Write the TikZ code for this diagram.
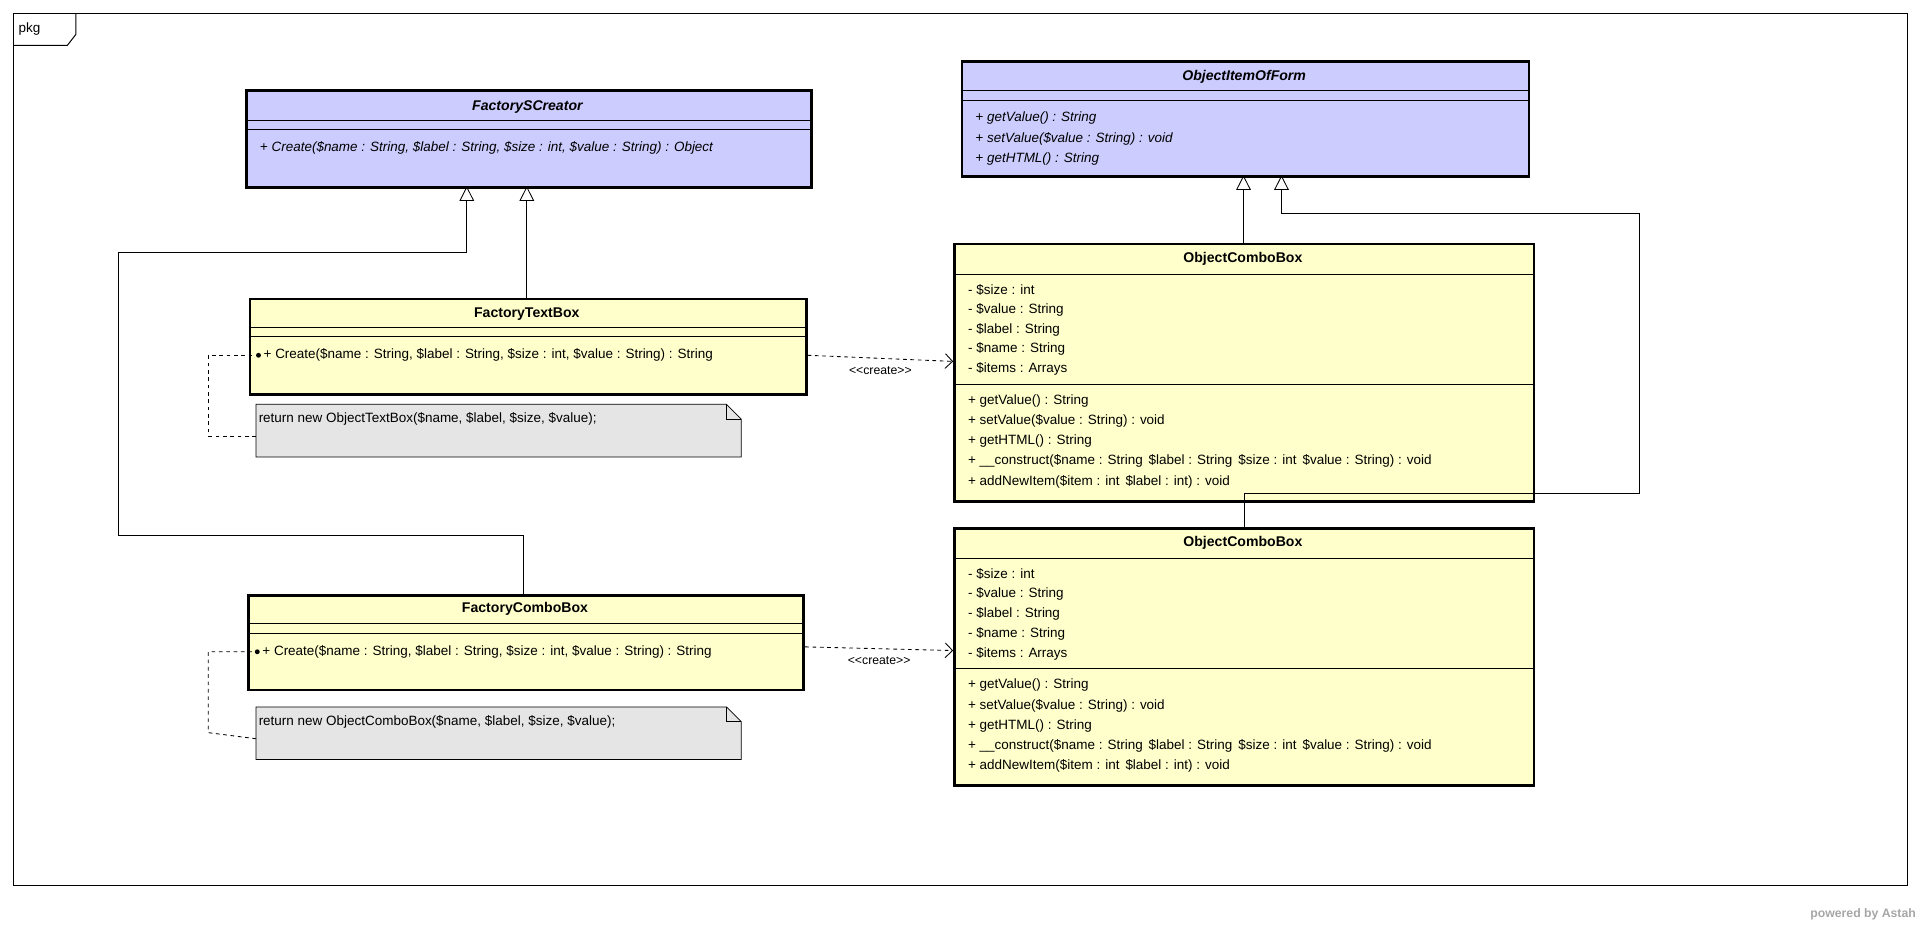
\documentclass[tikz,border=0pt]{standalone}
\usepackage{fontspec}
\setmainfont{Liberation Sans}
\usetikzlibrary{%
	positioning,
	calc,
	arrows.meta
}
\definecolor{abstractblue}{RGB}{204,204,255}
\definecolor{classyellow}{RGB}{255,255,204}
\definecolor{notegray}{RGB}{229,229,229}

\begin{document}
\begin{tikzpicture}[x=1pt,y=-1pt,
		SClass/.style={draw,line width=2.2pt,shape=rectangle,anchor=north west,inner sep=0pt},
		SAbstract/.style={SClass,fill=abstractblue},
		SConcrete/.style={SClass,fill=classyellow},
		title/.style={font=\fontsize{11.5}{14}\selectfont\bfseries},
		member/.style={anchor=west,inner sep=0pt,font=\fontsize{11}{14}\selectfont},
		sep/.style={line width=0.8pt},
		inherit/.style={-{Triangle[open,length=12pt,width=12pt]},line width=0.7pt},
		depend/.style={dashed,-{Straight Barb[length=6pt,width=12pt]},line width=0.7pt},
		anchorline/.style={dashed,line width=0.7pt}
	]
		\useasboundingbox (0,0) rectangle (1568,757);
		% package frame
		\draw[line width=0.8pt] (11,11) rectangle (1557,723);
		\draw[line width=0.8pt] (11,37) -- (55,37) -- (62,28) -- (62,11);
		\node(pkg)[member] at (15,24) {pkg};
		
		% abstract classes
		\node(creator) [SAbstract, minimum width=461, minimum height=79] at (200,73) {};
		\node[title] at (430.5,87) {\itshape FactorySCreator};
		\draw[sep] (creator.west |- 0,98) -- (creator.east |- 0,98) (creator.west |- 0,106) -- (creator.east |- 0,106);
		\node[member] at (212,121) {\itshape + Create(\$name : String, \$label : String, \$size : int, \$value : String) : Object};
		
		\node(item) [SAbstract, minimum width=463, minimum height=94] at (784,49) {};
		\node[title] at (1015.5,63) {\itshape ObjectItemOfForm};
		\draw[sep] (item.west |- 0,74) -- (item.east |- 0,74) (item.west |- 0,82) -- (item.east |- 0,82);
		\node[member] at (796,96) {\itshape + getValue() : String};
		\node[member] at (796,113) {\itshape + setValue(\$value : String) : void};
		\node[member] at (796,130) {\itshape + getHTML() : String};
		
		% factories
		\node(textbox) [SConcrete, minimum width=454, minimum height=78] at (203,243) {};
		\node[title] at (430,256) {FactoryTextBox};
		\draw[sep] (textbox.west |- 0,267) -- (textbox.east |- 0,267) (textbox.west |- 0,275) -- (textbox.east |- 0,275);
		\node(textbox-op)[member] at (215,290) {+ Create(\$name : String, \$label : String, \$size : int, \$value : String) : String};
		
		\node(combo) [SConcrete, minimum width=453, minimum height=77] at (202,485) {};
		\node[title] at (428.5,497) {FactoryComboBox};
		\draw[sep] (combo.west |- 0,509) -- (combo.east |- 0,509) (combo.west |- 0,517) -- (combo.east |- 0,517);
		\node(combo-op)[member] at (214,532) {+ Create(\$name : String, \$label : String, \$size : int, \$value : String) : String};
		
		% notes
		\foreach \n/\y/\t in {1/330/ObjectTextBox, 2/577/ObjectComboBox}{
			\draw[fill=notegray,line width=0.6pt] (209,\y) -- (593,\y) -- (605,\y+12) -- (605,\y+43) -- (209,\y+43) -- cycle;
			\draw[line width=0.6pt] (593,\y) -- (593,\y+12) -- (605,\y+12);
			\coordinate(note\n) at (209,\y+26);
			\node[member] at (211,\y+12) {return new \t(\$name, \$label, \$size, \$value);};
		}
		
		% object classes
		\foreach \n/\y in {1/198, 2/430}{
			\node(ocb\n) [SConcrete, minimum width=473, minimum height=210] at (778,\y) {};
			\node[title] at (1014.5,\y+13) {ObjectComboBox};
			\draw[sep] (778,\y+26) -- (1251,\y+26) (778,\y+116) -- (1251,\y+116);
			\foreach \a [count=\i] in {- \$size : int, - \$value : String, - \$label : String, - \$name : String, - \$items : Arrays}
				\node[member] at (790,\y+22+16.3*\i) {\a};
			\foreach \m [count=\i] in {+ getValue() : String, + setValue(\$value : String) : void, + getHTML() : String, + \_\_construct(\$name : String\, \$label : String\, \$size : int\, \$value : String) : void, + addNewItem(\$item : int\, \$label : int) : void}
				\node[member] at (790,\y+113+16.4*\i) {\m};
		}
		
		% generalizations
		\draw[inherit] (textbox.north -| 430,0) -- (430,152);
		\draw[inherit] (combo.north -| 427,0) -- (427,437) -- (97,437) -- (97,206) -- (381,206) -- (381,152);
		\draw[inherit] (ocb1.north -| 1015,0) -- (1015,143);
		\draw[inherit] (ocb2.north -| 1016,0) -- (1016,403) -- (1338,403) -- (1338,174) -- (1046,174) -- (1046,143);
		
		% dependencies
		\draw[depend] (textbox.east |- 0,290) -- node(create1)[member,anchor=center,font=\fontsize{10}{12}\selectfont,below=6pt] {<{}<create>{}>} (ocb1.west |- 0,295);
		\draw[depend] (combo.east |- 0,528) -- node(create2)[member,anchor=center,font=\fontsize{10}{12}\selectfont,below=6pt] {<{}<create>{}>} (ocb2.west |- 0,531);
		
		% note anchors
		\fill (textbox-op.west) ++(-4,0) circle (2);
		\draw[anchorline] (note1) -- (170,356) -- (170,290) -- ($(textbox-op.west)+(-4,0)$);
		\fill (combo-op.west) ++(-4,0) circle (2);
		\draw[anchorline] (note2) -- (170,598) -- (170,532) -- ($(combo-op.west)+(-4,0)$);
		
		\node(astah)[member,anchor=east,text=black!35,font=\fontsize{10}{12}\selectfont\bfseries] at (1564,746) {powered by Astah};
\end{tikzpicture}
\end{document}
